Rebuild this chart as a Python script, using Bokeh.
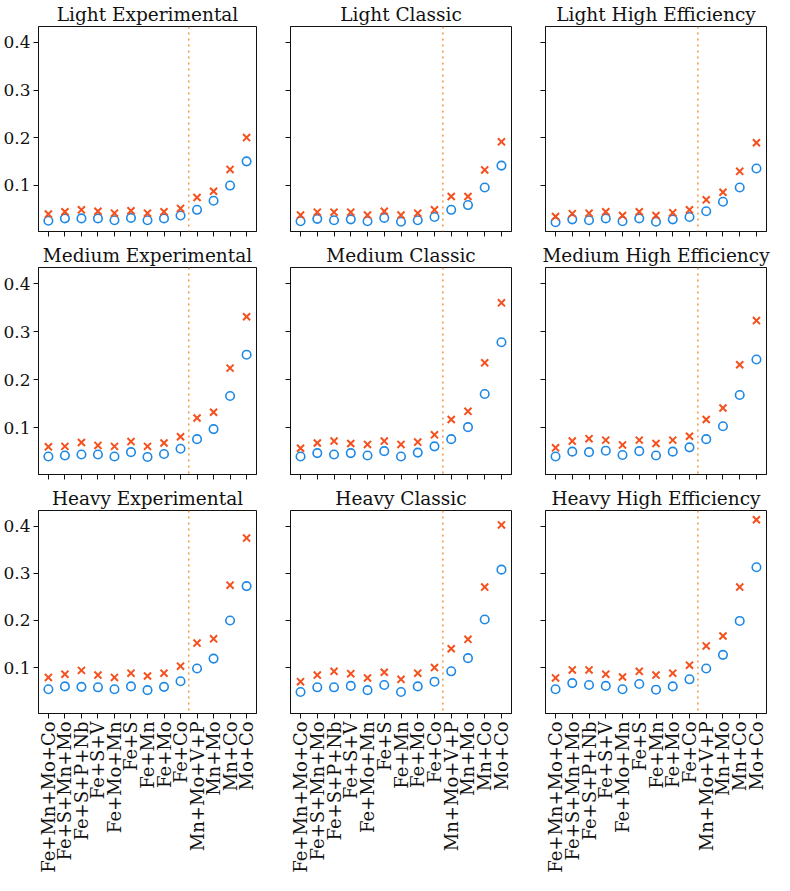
import math
from bokeh.plotting import figure
from bokeh.layouts import column, row
from bokeh.models import FixedTicker, Span, Range1d, CustomJSTickFormatter
from bokeh.embed import file_html
from bokeh.resources import INLINE

# ---------------- data ----------------
categories = ["Fe+Mn+Mo+Co", "Fe+S+Mn+Mo", "Fe+S+P+Nb", "Fe+S+V", "Fe+Mo+Mn",
              "Fe+S", "Fe+Mn", "Fe+Mo", "Fe+Co",
              "Mn+Mo+V+P", "Mn+Mo", "Mn+Co", "Mo+Co"]
fe_categories = [c for c in categories if c.startswith("Fe")]

loads = ["Light", "Medium", "Heavy"]
designs = ["Experimental", "Classic", "High Efficiency"]
y_ticks = [0.1, 0.2, 0.3, 0.4]

# circles (blue) and crosses (red) per panel
light_experimental_o = [0.025, 0.030, 0.030, 0.030, 0.026, 0.031, 0.026, 0.030, 0.036, 0.048, 0.067, 0.099, 0.150]
light_experimental_x = [0.039, 0.044, 0.048, 0.045, 0.041, 0.046, 0.041, 0.044, 0.051, 0.074, 0.087, 0.133, 0.200]
light_classic_o = [0.024, 0.029, 0.026, 0.028, 0.024, 0.031, 0.023, 0.026, 0.033, 0.048, 0.058, 0.095, 0.141]
light_classic_x = [0.037, 0.043, 0.043, 0.043, 0.037, 0.045, 0.037, 0.041, 0.048, 0.076, 0.076, 0.132, 0.191]
light_high_o = [0.022, 0.028, 0.026, 0.030, 0.024, 0.030, 0.023, 0.028, 0.033, 0.045, 0.065, 0.095, 0.135]
light_high_x = [0.034, 0.040, 0.041, 0.044, 0.036, 0.044, 0.036, 0.042, 0.048, 0.069, 0.085, 0.129, 0.189]

medium_experimental_o = [0.040, 0.042, 0.044, 0.044, 0.040, 0.049, 0.039, 0.045, 0.056, 0.076, 0.097, 0.166, 0.252]
medium_experimental_x = [0.060, 0.061, 0.069, 0.063, 0.061, 0.071, 0.061, 0.068, 0.081, 0.120, 0.132, 0.224, 0.331]
medium_classic_o = [0.040, 0.047, 0.044, 0.047, 0.042, 0.051, 0.040, 0.048, 0.061, 0.076, 0.101, 0.170, 0.278]
medium_classic_x = [0.057, 0.068, 0.072, 0.067, 0.065, 0.072, 0.065, 0.070, 0.085, 0.117, 0.134, 0.235, 0.360]
medium_high_o = [0.040, 0.050, 0.049, 0.052, 0.043, 0.051, 0.042, 0.050, 0.059, 0.076, 0.103, 0.168, 0.242]
medium_high_x = [0.058, 0.072, 0.077, 0.074, 0.064, 0.074, 0.067, 0.074, 0.082, 0.117, 0.141, 0.231, 0.323]

heavy_experimental_o = [0.054, 0.060, 0.059, 0.058, 0.054, 0.060, 0.052, 0.059, 0.071, 0.098, 0.119, 0.200, 0.273]
heavy_experimental_x = [0.079, 0.086, 0.094, 0.084, 0.079, 0.088, 0.082, 0.088, 0.103, 0.152, 0.161, 0.275, 0.375]
heavy_classic_o = [0.048, 0.058, 0.058, 0.061, 0.052, 0.063, 0.048, 0.060, 0.070, 0.092, 0.120, 0.202, 0.308]
heavy_classic_x = [0.070, 0.084, 0.092, 0.087, 0.078, 0.090, 0.075, 0.088, 0.100, 0.140, 0.160, 0.271, 0.403]
heavy_high_o = [0.054, 0.067, 0.063, 0.061, 0.054, 0.065, 0.053, 0.060, 0.075, 0.098, 0.127, 0.199, 0.313]
heavy_high_x = [0.078, 0.095, 0.095, 0.086, 0.080, 0.092, 0.084, 0.088, 0.105, 0.146, 0.167, 0.271, 0.414]

panels = [
    [(light_experimental_o, light_experimental_x), (light_classic_o, light_classic_x), (light_high_o, light_high_x)],
    [(medium_experimental_o, medium_experimental_x), (medium_classic_o, medium_classic_x), (medium_high_o, medium_high_x)],
    [(heavy_experimental_o, heavy_experimental_x), (heavy_classic_o, heavy_classic_x), (heavy_high_o, heavy_high_x)],
]

# ---------------- style ----------------
BLUE = "#1e88e5"
RED = "#f4511e"
ORANGE = "#f39c4a"
SERIF = "DejaVu Serif"

x_pos = list(range(len(categories)))
divider = len(fe_categories) - 0.5
n = len(categories)
x_lo, x_hi = -0.05 * (n - 1), (n - 1) * 1.05

all_vals = [v for r in panels for (o, xx) in r for v in o + xx]
vmin, vmax = min(all_vals), max(all_vals)
pad = 0.05 * (vmax - vmin)
y_lo, y_hi = vmin - pad, vmax + pad

frame_w, frame_h = 221, 207
col_borders = [(35, 6), (28, 6), (28, 8)]
row_borders = [(24, 8), (28, 8), (28, 158)]

blank = CustomJSTickFormatter(code="return '';")

rows = []
for ri, load in enumerate(loads):
    figs = []
    for ci, design in enumerate(designs):
        bl, br = col_borders[ci]
        bt, bb = row_borders[ri]
        p = figure(width=bl + frame_w + br, height=bt + frame_h + bb,
                   output_backend="svg", toolbar_location=None,
                   title=f"{load} {design}",
                   x_range=Range1d(x_lo, x_hi), y_range=Range1d(y_lo, y_hi),
                   min_border_left=bl, min_border_right=br,
                   min_border_top=bt, min_border_bottom=bb)
        p.title.text_font = SERIF
        p.title.text_font_size = "18.5px"
        p.title.text_font_style = "normal"
        p.title.text_color = "#111111"
        p.title.align = "center"
        p.title.standoff = 3
        p.xgrid.visible = False
        p.ygrid.visible = False
        p.outline_line_color = "#111111"
        p.outline_line_width = 1
        p.background_fill_color = "white"
        p.border_fill_color = "white"

        for ax in (p.xaxis[0], p.yaxis[0]):
            ax.axis_line_color = "#111111"
            ax.major_tick_line_color = "#111111"
            ax.major_tick_out = 5
            ax.major_tick_in = 0
            ax.minor_tick_line_color = None
            ax.major_label_text_font = SERIF
            ax.major_label_text_color = "#111111"
            ax.major_label_standoff = 3

        p.xaxis.ticker = FixedTicker(ticks=x_pos)
        p.yaxis.ticker = FixedTicker(ticks=y_ticks)
        if ri == len(loads) - 1:
            p.xaxis.major_label_overrides = {i: c for i, c in enumerate(categories)}
            p.xaxis.major_label_orientation = math.pi / 2
            p.xaxis.major_label_text_font_size = "18px"
        else:
            p.xaxis.formatter = blank
            p.xaxis.major_label_text_font_size = "2px"
            p.xaxis.major_label_standoff = 0
        if ci == 0:
            p.yaxis.major_label_text_font_size = "17px"
        else:
            p.yaxis.formatter = blank
            p.yaxis.major_label_text_font_size = "2px"
            p.yaxis.major_label_standoff = 0

        p.add_layout(Span(location=divider, dimension="height", line_color=ORANGE,
                          line_dash="dotted", line_width=1.6))

        o_vals, x_vals = panels[ri][ci]
        p.scatter(x_pos, o_vals, marker="circle", size=8.5, fill_color=None,
                  line_color=BLUE, line_width=1.6)
        p.scatter(x_pos, x_vals, marker="x", size=10, line_color=RED, line_width=2)
        figs.append(p)
    rows.append(row(*figs, spacing=0))

layout = column(*rows, spacing=0)
open("out.html", "w").write(file_html(layout, INLINE))
